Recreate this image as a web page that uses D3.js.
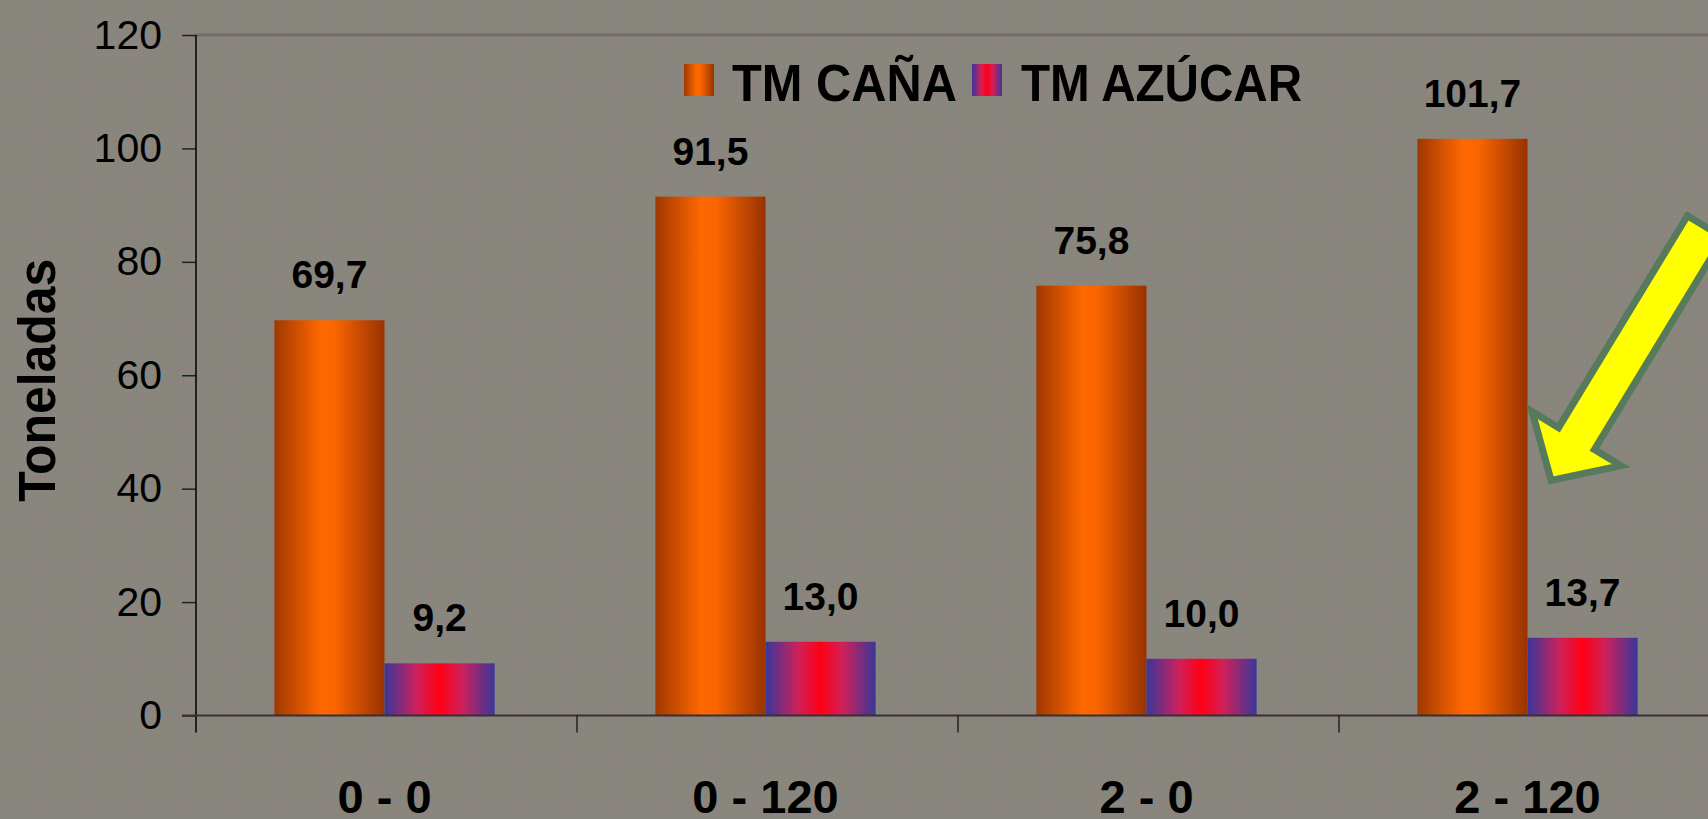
<!DOCTYPE html>
<html>
<head>
<meta charset="utf-8">
<script src="https://cdn.jsdelivr.net/npm/d3@7"></script>
<style>
  body { margin: 0; background: #8e8181; overflow: hidden; }
  svg { display: block; }
</style>
</head>
<body>
<div id="chart"></div>
<script>
// data
let categories = ["0 - 0", "0 - 120", "2 - 0", "2 - 120"];
let seriesNames = ["TM CAÑA", "TM AZÚCAR"];
let cana = [69.7, 91.5, 75.8, 101.7];
let azucar = [9.2, 13.0, 10.0, 13.7];
let yTicks = [0, 20, 40, 60, 80, 100, 120];
let yTitle = "Toneladas";
// arrow points at the sugar bar of the last treatment
let arrowTarget = { category: "2 - 120", series: "TM AZÚCAR", value: 41 };

let width = 1708, height = 819;
let plotLeft = 196, plotTop = 35, plotBottom = 715.5;
let bandW = 381;

let rows = categories.map((c, i) => ({ cat: c, values: [
    { key: seriesNames[0], value: cana[i] },
    { key: seriesNames[1], value: azucar[i] }
]}));

let svg = d3.select("#chart").append("svg")
    .attr("width", width)
    .attr("height", height);

// subtle texture of the slide background
let defs = svg.append("defs");
let pat = defs.append("pattern").attr("id", "tex")
    .attr("width", 6).attr("height", 6).attr("patternUnits", "userSpaceOnUse");
pat.append("rect").attr("width", 6).attr("height", 6).attr("fill", "#908080");
pat.append("rect").attr("width", 6).attr("height", 1).attr("fill", "#848a7c");
pat.append("rect").attr("width", 1).attr("height", 6).attr("fill", "#848a7c");
svg.append("rect").attr("width", width).attr("height", height).attr("fill", "url(#tex)");

let gOrange = defs.append("linearGradient").attr("id", "gradCana");
gOrange.append("stop").attr("offset", "0%").attr("stop-color", "#a03800");
gOrange.append("stop").attr("offset", "42%").attr("stop-color", "#ff6800");
gOrange.append("stop").attr("offset", "55%").attr("stop-color", "#fa6500");
gOrange.append("stop").attr("offset", "100%").attr("stop-color", "#983200");

let gPurple = defs.append("linearGradient").attr("id", "gradAzucar");
gPurple.append("stop").attr("offset", "0%").attr("stop-color", "#3a369a");
gPurple.append("stop").attr("offset", "30%").attr("stop-color", "#d0205a");
gPurple.append("stop").attr("offset", "50%").attr("stop-color", "#ff0014");
gPurple.append("stop").attr("offset", "70%").attr("stop-color", "#d0205a");
gPurple.append("stop").attr("offset", "100%").attr("stop-color", "#3a369a");

let fills = { "TM CAÑA": "url(#gradCana)", "TM AZÚCAR": "url(#gradAzucar)" };

let x0 = d3.scaleBand()
    .domain(categories)
    .range([plotLeft, plotLeft + bandW * categories.length])
    .padding(0);

let x1 = d3.scaleBand()
    .domain(seriesNames)
    .range([0, x0.bandwidth()])
    .paddingInner(0)
    .paddingOuter(0.73);

let y = d3.scaleLinear()
    .domain([0, 120])
    .range([plotBottom, plotTop]);

// plot area top border
svg.append("line")
    .attr("x1", plotLeft).attr("x2", width)
    .attr("y1", y(120)).attr("y2", y(120))
    .attr("stroke", "#6e6e6e").attr("stroke-width", 3);

// bars
let groups = svg.selectAll("g.grp")
    .data(rows)
    .enter().append("g")
    .attr("class", "grp")
    .attr("transform", d => "translate(" + (x0(d.cat) - 2) + ",0)");

groups.selectAll("rect")
    .data(d => d.values)
    .enter().append("rect")
    .attr("x", d => x1(d.key))
    .attr("y", d => y(d.value))
    .attr("width", x1.bandwidth())
    .attr("height", d => y(0) - y(d.value))
    .attr("fill", d => fills[d.key]);

groups.selectAll("text")
    .data(d => d.values)
    .enter().append("text")
    .attr("x", d => x1(d.key) + x1.bandwidth() / 2)
    .attr("y", d => y(d.value) - 32)
    .attr("text-anchor", "middle")
    .style("font-family", "'Liberation Sans', Arial, sans-serif")
    .style("font-weight", "bold")
    .style("font-size", "39px")
    .text(d => d.value.toFixed(1).replace(".", ","));

// y axis
let yAxis = svg.append("g")
    .attr("transform", "translate(" + plotLeft + ",0)")
    .call(d3.axisLeft(y).tickValues(yTicks).tickSize(14).tickPadding(20));
yAxis.select(".domain").remove();
yAxis.selectAll(".tick line").attr("stroke", "#222").attr("stroke-width", 1.5);
yAxis.selectAll(".tick text")
    .style("font-family", "'Liberation Sans', Arial, sans-serif")
    .style("font-size", "41px")
    .attr("fill", "#000");
svg.append("line")
    .attr("x1", plotLeft).attr("x2", plotLeft)
    .attr("y1", y(120)).attr("y2", plotBottom + 17)
    .attr("stroke", "#000").attr("stroke-width", 1.5);

// x axis
let xAxis = svg.append("g")
    .attr("transform", "translate(-2," + plotBottom + ")")
    .call(d3.axisBottom(x0).tickSize(0).tickPadding(64));
xAxis.select(".domain").remove();
xAxis.selectAll(".tick text")
    .style("font-family", "'Liberation Sans', Arial, sans-serif")
    .style("font-weight", "bold")
    .style("font-size", "47px")
    .attr("fill", "#000");
svg.append("line")
    .attr("x1", plotLeft - 14).attr("x2", width)
    .attr("y1", plotBottom).attr("y2", plotBottom)
    .attr("stroke", "#333").attr("stroke-width", 2);
svg.selectAll("line.cattick")
    .data(categories.slice(1))
    .enter().append("line")
    .attr("class", "cattick")
    .attr("x1", d => x0(d)).attr("x2", d => x0(d))
    .attr("y1", plotBottom).attr("y2", plotBottom + 17)
    .attr("stroke", "#222").attr("stroke-width", 1.5);

// y title
svg.append("text")
    .attr("transform", "translate(55," + ((y(0) + y(120)) / 2 + 5) + ") rotate(-90)")
    .attr("text-anchor", "middle")
    .attr("textLength", 243)
    .attr("lengthAdjust", "spacingAndGlyphs")
    .style("font-family", "'Liberation Sans', Arial, sans-serif")
    .style("font-weight", "bold")
    .style("font-size", "51px")
    .text(yTitle);

// legend
let legendItems = [
    { key: seriesNames[0], sx: 684, tx: 732, tw: 225 },
    { key: seriesNames[1], sx: 972, tx: 1021, tw: 281 }
];
let legend = svg.append("g");
legend.selectAll("rect")
    .data(legendItems)
    .enter().append("rect")
    .attr("x", d => d.sx).attr("y", 64)
    .attr("width", 30).attr("height", 32)
    .attr("fill", d => fills[d.key]);
legend.selectAll("text")
    .data(legendItems)
    .enter().append("text")
    .attr("x", d => d.tx).attr("y", 101)
    .attr("textLength", d => d.tw)
    .attr("lengthAdjust", "spacingAndGlyphs")
    .style("font-family", "'Liberation Sans', Arial, sans-serif")
    .style("font-weight", "bold")
    .style("font-size", "52px")
    .text(d => d.key);

// yellow arrow annotation
let tipX = x0(arrowTarget.category) + x1(arrowTarget.series) + 20;
let tipY = y(arrowTarget.value);
let headLen = 52, headHalf = 52, shaftHalf = 21, shaftLen = 300;
let arrowPts = [
    [3, 0], [headLen, -headHalf], [headLen, -shaftHalf], [shaftLen, -shaftHalf],
    [shaftLen, shaftHalf], [headLen, shaftHalf], [headLen, headHalf]
];
svg.append("path")
    .attr("transform", "translate(" + tipX + "," + tipY + ") rotate(-58.7)")
    .attr("d", d3.line()(arrowPts) + "Z")
    .attr("fill", "#ffff00")
    .attr("stroke", "#587a5c")
    .attr("stroke-width", 7)
    .attr("stroke-linejoin", "miter");
</script>
</body>
</html>
